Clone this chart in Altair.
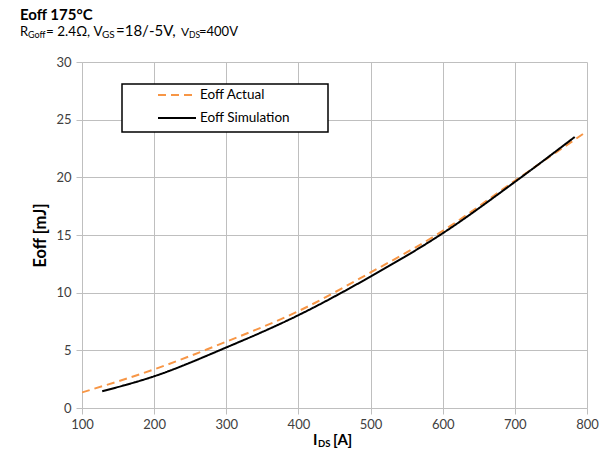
import altair as alt
import pandas as pd

# Data
actual_x = [100, 200, 300, 400, 500, 600, 700, 800]
actual_y = [1.35, 3.35, 5.75, 8.4, 11.75, 15.35, 19.7, 24.0]
sim_x = [128, 200, 300, 400, 500, 600, 700, 783]
sim_y = [1.45, 2.75, 5.25, 8.05, 11.4, 15.15, 19.6, 23.5]
series = ["Eoff Actual", "Eoff Simulation"]
colors = ["#F79646", "#000000"]
dashes = [[8, 5], [1, 0]]
x_ticks = [100, 200, 300, 400, 500, 600, 700, 800]
y_ticks = [0, 5, 10, 15, 20, 25, 30]
title_text = "Eoff 175°C"

FONT = "Lato"
W, H = 505, 346

df = pd.concat([
    pd.DataFrame({"I": actual_x, "E": actual_y, "s": series[0]}),
    pd.DataFrame({"I": sim_x, "E": sim_y, "s": series[1]}),
])

color_enc = alt.Color("s:N", scale=alt.Scale(domain=series, range=colors), legend=None)
dash_enc = alt.StrokeDash("s:N", scale=alt.Scale(domain=series, range=dashes), legend=None)

lines = alt.Chart(df).mark_line(strokeWidth=2, clip=True, interpolate="monotone").encode(
    x=alt.X("I:Q", scale=alt.Scale(domain=[100, 800], nice=False),
            axis=alt.Axis(values=x_ticks, title=None, grid=True, tickSize=6,
                          labelPadding=4, labelFlush=False)),
    y=alt.Y("E:Q", scale=alt.Scale(domain=[0, 30], nice=False),
            axis=alt.Axis(values=y_ticks, title="Eoff [mJ]", grid=True, tickSize=6,
                          labelPadding=5, titlePadding=7, labelFlush=False,
                          titleFontSize=16.5)),
    color=color_enc,
    strokeDash=dash_enc,
    order=alt.Order("I:Q"),
)

# Legend (box + samples + labels), positioned in pixels inside the plot area
box = alt.Chart(pd.DataFrame({"a": [0]})).mark_rect(
    fill="white", stroke="black", strokeWidth=1.5
).encode(x=alt.value(40), x2=alt.value(246), y=alt.value(22), y2=alt.value(70))

leg_df = pd.DataFrame({"s": series, "ly": [33, 56]})
leg_lines = alt.Chart(leg_df).mark_rule(strokeWidth=2).encode(
    x=alt.value(76), x2=alt.value(114), y=alt.Y("ly:Q", scale=None),
    color=color_enc, strokeDash=dash_enc,
)
leg_text = alt.Chart(leg_df).mark_text(
    align="left", baseline="middle", font=FONT, fontSize=13.5, color="#000000"
).encode(x=alt.value(118), y=alt.Y("ly:Q", scale=None), text="s:N")

# Chart title
title = alt.Chart(pd.DataFrame({"t": [title_text]})).mark_text(
    align="left", baseline="top", font=FONT, fontSize=15, fontWeight="bold",
    color="#000000"
).encode(x=alt.value(-62), y=alt.value(-54), text="t:N")

# Subtitle with subscripts and x-axis title with subscript
txt = pd.DataFrame({
    "t": ["R", "Goff", "= 2.4Ω, V", "GS", "=18/-5V,", "V", "DS", "=400V",
          "I", "DS", "[A]"],
    "px": [-62, -54, -36, 20, 34, 99, 107, 117, 231, 236, 251],
    "py": [-26, -24, -26, -24, -26, -26, -24, -26, 383, 385, 383],
    "fs": [13, 9, 13.5, 10, 15, 12, 8.5, 13, 15, 9.5, 15],
    "fw": ["normal", "normal", "normal", "normal", "normal", "normal", "normal",
           "normal", "bold", "bold", "bold"],
})


def text_layer(weight):
    return alt.Chart(txt).transform_filter(alt.datum.fw == weight).mark_text(
        align="left", baseline="alphabetic", font=FONT, color="#000000",
        fontWeight=weight,
    ).encode(
        x=alt.X("px:Q", scale=None), y=alt.Y("py:Q", scale=None), text="t:N",
        size=alt.Size("fs:Q", scale=None, legend=None),
    )


chart = alt.layer(box, lines, leg_lines, leg_text, title,
                  text_layer("bold"), text_layer("normal")).properties(
    width=W, height=H,
    autosize=alt.AutoSizeParams(type="none"),
    padding={"left": 74, "top": 54, "right": 12, "bottom": 40},
).configure_view(stroke=None).configure_axis(
    gridColor="#BFBFBF", gridWidth=1, domainColor="#BFBFBF", tickColor="#BFBFBF",
    labelFont=FONT, labelFontSize=13, labelColor="#404040",
    titleFont=FONT, titleFontSize=14, titleFontWeight="bold", titleColor="#000000",
)

chart.save("out.html", embed_options={"renderer": "svg", "actions": False})
